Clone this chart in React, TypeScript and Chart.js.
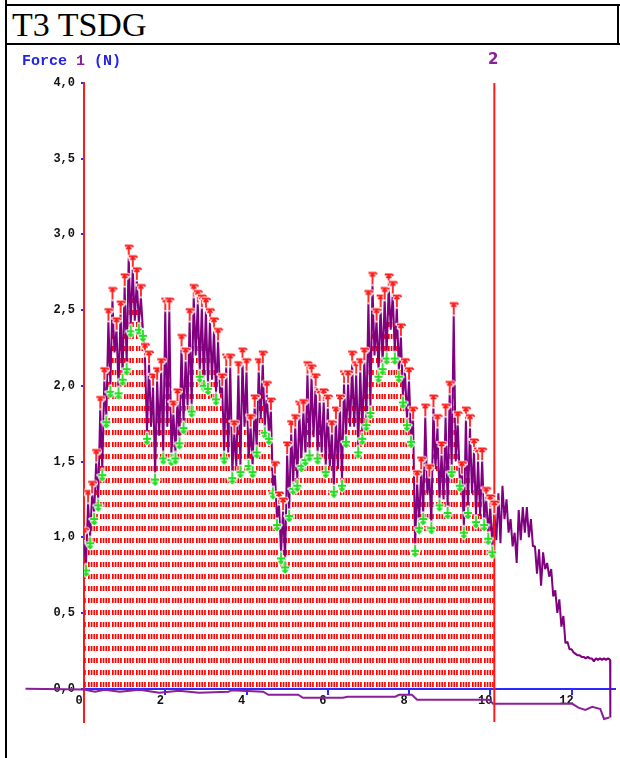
import React, { useEffect, useRef } from 'react';
import { Chart, registerables } from 'chart.js';

Chart.register(...registerables);

const titleText = 'T3 TSDG';
const axisLabelParts = ['Force', '1', '(N)'];
const cursorLabel = '2';
const cursorTimes = [0, 10.1];

// Force trace, read every 0.1 s: upper and lower extent of the signal in each step
const traceStep = 0.1;
const traceHigh = [
  0.98, 1.23, 1.29, 1.5, 1.85, 2.04, 2.43, 2.57, 2.37, 2.48,
  2.66, 2.85, 2.78, 2.7, 2.59, 2.2, 2.15, 2.0, 2.04, 2.1,
  2.5, 2.5, 1.82, 1.9, 2.26, 2.17, 2.43, 2.59, 2.55, 2.52,
  2.5, 2.43, 2.37, 2.3, 2.0, 2.13, 2.13, 1.69, 2.08, 2.17,
  2.1, 1.73, 1.86, 2.1, 2.15, 1.95, 1.84, 1.42, 1.22, 1.18,
  1.55, 1.69, 1.73, 1.82, 1.83, 2.08, 2.06, 2.0, 1.9, 1.9,
  1.86, 1.69, 1.78, 1.86, 2.02, 2.02, 2.15, 2.08, 2.1, 2.17,
  2.55, 2.67, 2.43, 2.52, 2.57, 2.66, 2.61, 2.52, 2.33, 2.1,
  2.04, 1.78, 1.36, 1.45, 1.8, 1.4, 1.86, 1.73, 1.55, 1.8,
  1.95, 2.47, 1.75, 1.42, 1.78, 1.73, 1.57, 1.51, 1.51, 1.25,
  1.2, 1.16, 1.29, 1.34, 1.25, 1.12, 1.03, 1.18, 1.2, 1.2,
  1.12, 0.94, 0.92, 0.9, 0.83, 0.79, 0.65, 0.59, 0.48, 0.31,
  0.26, 0.23, 0.22, 0.21, 0.21, 0.2, 0.2, 0.2, 0.2, 0.2,
];
const traceLow = [
  0.82, 1.0, 1.16, 1.25, 1.45, 1.8, 2.0, 2.22, 1.99, 2.08,
  2.15, 2.4, 2.43, 2.41, 2.37, 1.69, 1.73, 1.42, 1.67, 1.56,
  1.73, 1.55, 1.56, 1.66, 1.76, 1.87, 1.87, 2.2, 2.1, 2.04,
  2.02, 2.04, 1.95, 1.95, 1.56, 1.56, 1.43, 1.47, 1.47, 1.73,
  1.51, 1.47, 1.6, 1.78, 1.73, 1.69, 1.33, 1.12, 0.9, 0.84,
  1.18, 1.36, 1.38, 1.51, 1.55, 1.58, 1.66, 1.56, 1.56, 1.47,
  1.47, 1.34, 1.45, 1.38, 1.67, 1.73, 1.73, 1.6, 1.69, 1.78,
  1.86, 2.2, 2.1, 2.15, 2.22, 2.37, 2.22, 2.1, 1.93, 1.78,
  1.67, 0.95, 1.1, 1.16, 1.29, 1.1, 1.45, 1.25, 1.25, 1.2,
  1.47, 1.5, 1.38, 1.07, 1.2, 1.29, 1.14, 1.14, 1.12, 1.03,
  0.94, 0.98, 0.96, 1.12, 1.03, 0.94, 0.83, 0.98, 1.03, 1.0,
  0.94, 0.76, 0.68, 0.79, 0.74, 0.61, 0.5, 0.41, 0.3, 0.26,
  0.24, 0.22, 0.21, 0.2, 0.2, 0.18, 0.19, 0.19, 0.19, 0.19,
];
const traceEndTimes = [12.95, 12.96];
const traceEndValues = [0.19, -0.19];

// Second (baseline) channel, near zero
const baseTimes = [-1.44, 0, 0.27, 0.51, 0.88, 1.37, 1.85, 2.34, 2.83, 3.56, 3.63, 4.41, 4.54, 5.27, 5.39, 6.37, 6.49, 7.66, 7.76, 8.07, 8.2, 9.98, 10.07, 12.02, 12.17, 12.34, 12.51, 12.71, 12.8, 12.93];
const baseValues = [0.0, -0.005, -0.02, -0.007, -0.02, -0.007, -0.027, -0.013, -0.027, -0.02, -0.01, -0.02, -0.04, -0.04, -0.06, -0.06, -0.053, -0.053, -0.04, -0.04, -0.073, -0.073, -0.1, -0.1, -0.125, -0.14, -0.12, -0.135, -0.2, -0.19];

const yTickValues = [0, 0.5, 1, 1.5, 2, 2.5, 3, 3.5, 4];
const xTickValues = [0, 2, 4, 6, 8, 10, 12];
const yMin = -0.22;
const yMax = 4.0;
const xMin = 0;
const xMax = 13.07;

const PURPLE = '#800080';
const RED = '#ff1a1a';
const GREEN = '#1ee01e';
const BLUE = '#2a2aff';

function strokeWithHalo(g: CanvasRenderingContext2D, color: string, path: () => void) {
  g.lineCap = 'round';
  g.lineJoin = 'round';
  g.strokeStyle = 'rgba(255,255,255,0.9)';
  g.lineWidth = 3.6;
  g.beginPath(); path(); g.stroke();
  g.lineCap = 'butt';
  g.strokeStyle = color;
  g.lineWidth = 1.8;
  g.beginPath(); path(); g.stroke();
}

function makeUpMarker(color: string) {
  const c = document.createElement('canvas');
  c.width = 12;
  c.height = 28;
  const g = c.getContext('2d')!;
  strokeWithHalo(g, color, () => {
    g.moveTo(6, 14); g.lineTo(6, 2.5);
    g.moveTo(2, 2.5); g.lineTo(9.5, 2.5); g.lineTo(10.5, 4);
    g.moveTo(3.5, 6); g.lineTo(6, 3.6); g.lineTo(8.5, 6);
  });
  return c;
}

function makeDownMarker(color: string) {
  const c = document.createElement('canvas');
  c.width = 12;
  c.height = 28;
  const g = c.getContext('2d')!;
  strokeWithHalo(g, color, () => {
    g.moveTo(6, 14); g.lineTo(6, 25.5);
    g.moveTo(2, 20); g.lineTo(10, 20);
    g.moveTo(3.5, 22.5); g.lineTo(6, 25); g.lineTo(8.5, 22.5);
  });
  return c;
}

export default function App() {
  const ref = useRef<HTMLCanvasElement>(null);

  useEffect(() => {
    const canvas = ref.current!;
    const ctx = canvas.getContext('2d')!;

    const pc = document.createElement('canvas');
    pc.width = 12;
    pc.height = 12;
    const pg = pc.getContext('2d')!;
    pg.fillStyle = '#ff0000';
    [0, 2.7, 5.4, 8.1].forEach((x) => pg.fillRect(x, 0, 1.7, 5));
    const pattern = ctx.createPattern(pc, 'repeat')!;

    const tracePts: { x: number; y: number }[] = [];
    traceHigh.forEach((h, i) => {
      const t = Math.round(i * traceStep * 100) / 100;
      tracePts.push({ x: t, y: h });
      tracePts.push({ x: t + traceStep / 2, y: traceLow[i] });
    });
    traceEndTimes.forEach((t, i) => tracePts.push({ x: t, y: traceEndValues[i] }));

    const endT = cursorTimes[1];
    const fillPts = tracePts.filter((p) => p.x <= endT + 1e-9);

    const peakPts: { x: number; y: number }[] = [];
    const troughPts: { x: number; y: number }[] = [];
    traceHigh.forEach((h, i) => {
      const t = i * traceStep;
      if (t > endT + 1e-9) return;
      peakPts.push({ x: t, y: h });
      const lo = traceLow[i];
      const prev = i > 0 ? traceLow[i - 1] : lo;
      const next = i < traceLow.length - 1 ? traceLow[i + 1] : lo;
      if (lo < Math.max(prev, next)) troughPts.push({ x: t + traceStep / 2, y: lo });
    });

    const basePts = baseTimes.map((t, i) => ({ x: t, y: baseValues[i] }));

    const upImg = makeUpMarker(RED);
    const downImg = makeDownMarker(GREEN);

    const tickFont = { family: '"Liberation Mono", "DejaVu Sans Mono", monospace', size: 12, weight: 'bold' as const };

    const overlay = {
      id: 'overlay',
      beforeDatasetsDraw(chart: any) {
        const y0 = chart.scales.y.getPixelForValue(0);
        const x0 = chart.scales.x.getPixelForValue(0);
        const ty = (((Math.round(y0) - 7) % 12) + 12) % 12;
        const tx = (((Math.round(x0) + 4) % 12) + 12) % 12;
        pattern.setTransform(new DOMMatrix([1, 0, 0, 1, tx, ty]));
      },
      afterDraw(chart: any) {
        const c = chart.ctx;
        c.save();
        c.textBaseline = 'middle';
        c.textAlign = 'left';
        c.font = 'bold 15px "Liberation Mono", monospace';
        let x = 22;
        c.fillStyle = '#2323e6';
        c.fillText(axisLabelParts[0], x, 61);
        x += c.measureText(axisLabelParts[0] + ' ').width;
        c.fillStyle = '#8b1f9b';
        c.fillText(axisLabelParts[1], x, 61);
        x += c.measureText(axisLabelParts[1] + ' ').width;
        c.fillStyle = '#2323e6';
        c.fillText(axisLabelParts[2], x, 61);
        c.textAlign = 'center';
        c.fillStyle = '#8b1f9b';
        c.font = 'bold 15px "DejaVu Sans", sans-serif';
        c.fillText(cursorLabel, chart.scales.x.getPixelForValue(cursorTimes[1]) - 1, 60);
        c.restore();
      },
    };

    const chart = new Chart(canvas, {
      type: 'line',
      data: {
        datasets: [
          { label: 'peaks', data: peakPts, showLine: false, pointStyle: upImg as any, pointRadius: 3, order: 0 },
          { label: 'troughs', data: troughPts, showLine: false, pointStyle: downImg as any, pointRadius: 3, order: 1 },
          {
            label: 'cursor',
            data: [{ x: cursorTimes[1], y: yMin }, { x: cursorTimes[1], y: yMax }],
            borderColor: RED, borderWidth: 2, pointRadius: 0, order: 2,
          },
          {
            label: 'force', data: tracePts, borderColor: PURPLE, borderWidth: 2, pointRadius: 0,
            borderJoinStyle: 'bevel', order: 3,
          },
          {
            label: 'base', data: basePts, borderColor: '#8a1f9a', borderWidth: 2, pointRadius: 0,
            clip: false as any, order: 4,
          },
          {
            label: 'area', data: fillPts, borderColor: 'rgba(0,0,0,0)', borderWidth: 1,
            backgroundColor: pattern as any, fill: 'origin', pointRadius: 0, order: 5,
          },
        ],
      },
      options: {
        responsive: false,
        animation: false,
        devicePixelRatio: 1,
        layout: { padding: { left: 0, right: 0, top: 83, bottom: 36 } },
        plugins: { legend: { display: false }, tooltip: { enabled: false }, title: { display: false } },
        elements: { line: { tension: 0 } },
        scales: {
          x: {
            type: 'linear',
            min: xMin,
            max: xMax,
            position: { y: 0 } as any,
            afterBuildTicks: (axis: any) => { axis.ticks = xTickValues.map((v) => ({ value: v })); },
            ticks: {
              autoSkip: false, maxRotation: 0, padding: 0, labelOffset: -5, color: '#111',
              font: tickFont, callback: (v: any) => String(v),
            },
            grid: { display: true, drawOnChartArea: false, drawTicks: true, tickLength: 5, color: BLUE, lineWidth: 2 },
            border: { display: true, color: BLUE, width: 2 },
          },
          y: {
            type: 'linear',
            min: yMin,
            max: yMax,
            position: 'left',
            afterBuildTicks: (axis: any) => { axis.ticks = yTickValues.map((v) => ({ value: v })); },
            afterFit: (axis: any) => { axis.width = 84; },
            ticks: {
              padding: 6, color: '#111', font: tickFont,
              callback: (v: any) => Number(v).toFixed(1).replace('.', ','),
            },
            grid: { display: true, drawOnChartArea: false, drawTicks: true, tickLength: 3, color: BLUE, lineWidth: 2 },
            border: { display: true, color: RED, width: 2 },
          },
        },
      },
      plugins: [overlay],
    });

    return () => chart.destroy();
  }, []);

  return (
    <div style={{ position: 'absolute', left: 0, top: 0, width: 620, height: 758, background: '#fff', overflow: 'hidden' }}>
      <div style={{ position: 'absolute', left: 5, top: 0, width: 2, height: 758, background: '#000' }} />
      <div style={{ position: 'absolute', left: 5, top: 4, width: 615, height: 2, background: '#000' }} />
      <div style={{ position: 'absolute', left: 5, top: 43, width: 615, height: 2, background: '#000' }} />
      <div style={{ position: 'absolute', left: 617, top: 4, width: 2, height: 41, background: '#000' }} />
      <div
        style={{
          position: 'absolute', left: 12, top: 8, fontFamily: '"Liberation Serif", "Times New Roman", serif',
          fontSize: 34, lineHeight: '34px', color: '#000', whiteSpace: 'nowrap',
        }}
      >
        {titleText}
      </div>
      <canvas ref={ref} width={620} height={758} style={{ position: 'absolute', left: 0, top: 0, width: 620, height: 758 }} />
    </div>
  );
}
